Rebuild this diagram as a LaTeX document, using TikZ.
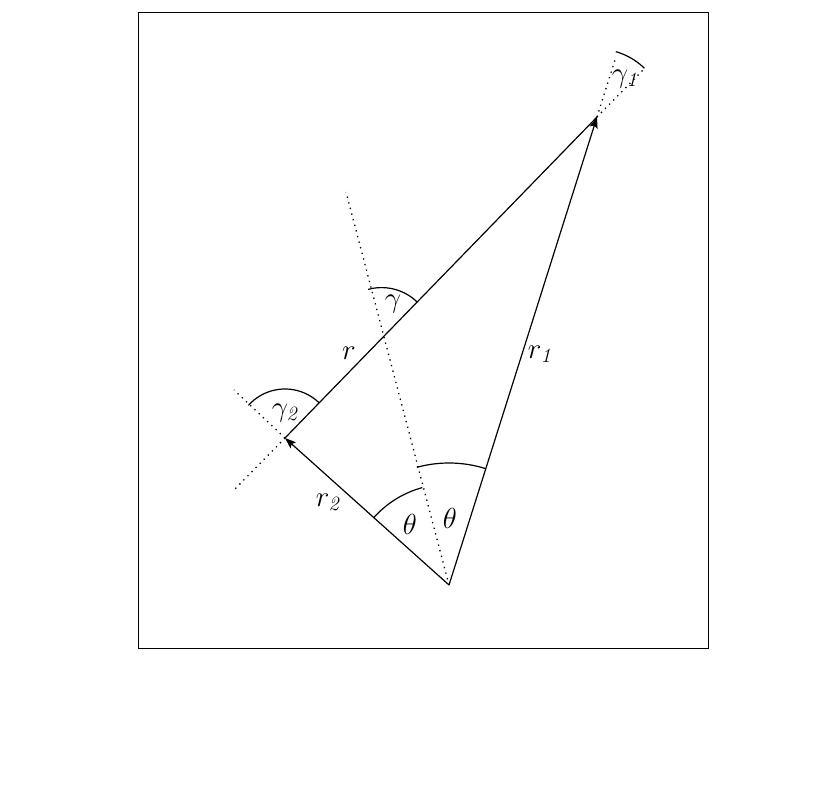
\RequirePackage{fix-cm}
\documentclass[tikz,border=0pt]{standalone}
\usetikzlibrary{arrows.meta}
\tikzset{
  solidline/.style={line width=1.2pt},
  dotline/.style={line width=1.3pt, dash pattern=on 1.3pt off 4.5pt},
  vec/.style={solidline, -{Stealth[length=11pt,width=8pt,inset=2pt]}},
  lbl/.style={inner sep=0pt, font=\fontsize{29}{34}\selectfont}
}
% screen-angle arc: center x, center y, radius, start, end
\newcommand\scrarc[5]{\draw[solidline] plot[domain=#4:#5, samples=40, smooth] ({#1+#3*cos(\x)},{#2+#3*sin(\x)});}
\begin{document}
\begin{tikzpicture}[x=1pt,y=-1pt]
\useasboundingbox (0,0) rectangle (830,797);
\node[draw, solidline, minimum width=570pt, minimum height=636pt, anchor=north west, inner sep=0pt] (frame) at (138,12) {};
\coordinate (O) at (449,585);
\coordinate (P1) at (597,117);
\coordinate (P2) at (285,438);
\coordinate (B) at (346,192);
\coordinate (E1a) at (615,60);
\coordinate (E1b) at (645,68);
\coordinate (E2a) at (234,390);
\coordinate (E2b) at (234,490);
% dotted lines
\draw[dotline] (O) -- (B);
\draw[dotline] (P1) -- (E1a);
\draw[dotline] (P1) -- (E1b);
\draw[dotline] (P2) -- (E2a);
\draw[dotline] (P2) -- (E2b);
% main lines
\draw[solidline] (P2) -- (P1);
\draw[vec] (O) -- (P1);
\draw[vec] (O) -- (P2);
% angle arcs
\scrarc{449}{585}{101}{-138.13}{-105.29}
\scrarc{449}{585}{122}{-105.29}{-72.45}
\scrarc{381.6}{338.6}{51}{-105.29}{-45.82}
\scrarc{285}{438}{49}{-138.13}{-45.82}
\scrarc{597}{117}{68}{-74}{-45.82}
% labels
\node[lbl] (th1) at (410,524) {$\theta$};
\node[lbl] (th2) at (450,518) {$\theta$};
\node[lbl] (ga) at (393,304) {$\gamma$};
\node[lbl] (ga2) at (286,413) {$\gamma_{\mathit{2}}$};
\node[lbl] (ga1) at (626,79) {$\gamma_{\mathit{1}}$};
\node[lbl] (rr) at (349,353) {$r$};
\node[lbl] (r1) at (541,354) {$r_{\mathit{1}}$};
\node[lbl] (r2) at (329,502) {$r_{\mathit{2}}$};
\end{tikzpicture}
\end{document}
